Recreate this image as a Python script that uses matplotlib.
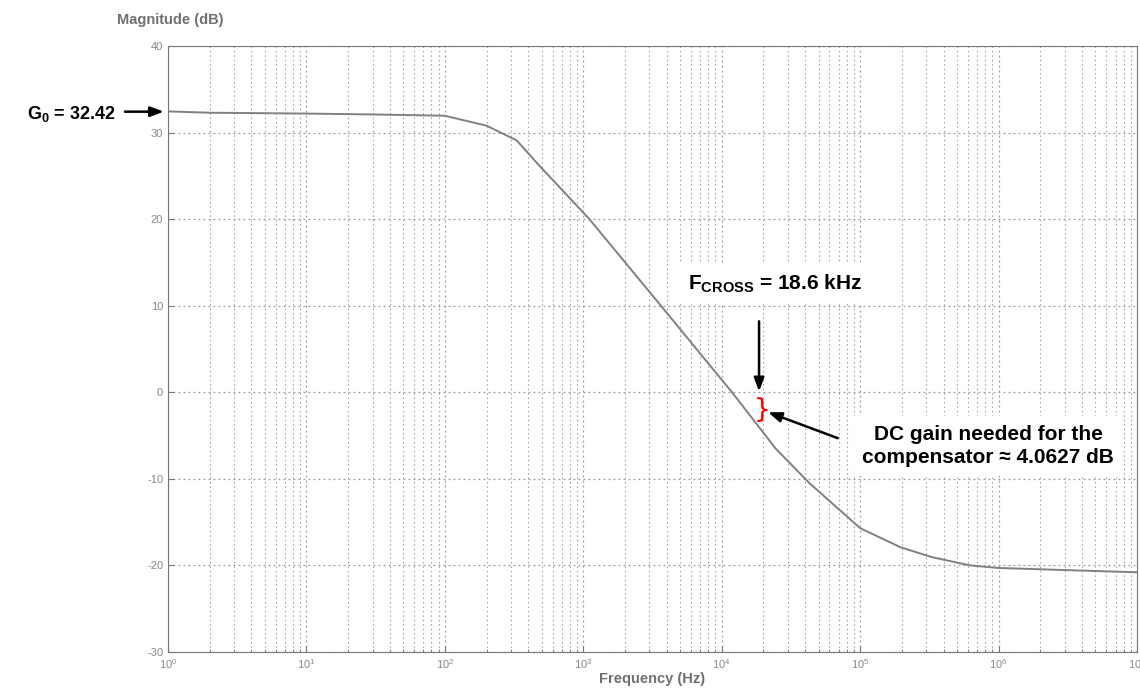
import matplotlib
matplotlib.use("Agg")
import matplotlib.pyplot as plt
import numpy as np
from matplotlib.ticker import LogLocator

# Bode magnitude
freq_hz = [1, 2, 10, 30, 100, 200, 330, 480, 1100, 3700, 12000, 24500,
           43000, 100000, 195000, 330000, 620000, 1e6, 1e7]
mag_db = [32.45, 32.3, 32.2, 32.1, 31.95, 30.8, 29.1, 26.2, 20.05, 9.85, -0.1,
          -6.5, -10.5, -15.7, -17.9, -19.05, -20.0, -20.3, -20.8]

g0 = 32.42
f_cross = 18.6e3
dc_gain = 4.0627
y_ticks = [-30, -20, -10, 0, 10, 20, 30, 40]

plt.rcParams['font.family'] = ['Liberation Sans', 'DejaVu Sans']
plt.rcParams['mathtext.fontset'] = 'custom'
plt.rcParams['mathtext.rm'] = 'Liberation Sans'
plt.rcParams['mathtext.bf'] = 'Liberation Sans:bold'
plt.rcParams['axes.unicode_minus'] = False

fig = plt.figure(figsize=(11.4, 6.98), dpi=100)
ax = fig.add_axes([0.1474, 0.066, 0.85, 0.868])

ax.plot(freq_hz, mag_db, color="#808080", lw=1.4)

ax.set_xscale("log")
ax.set_xlim(1, 1e7)
ax.set_ylim(-30, 40)
ax.set_yticks(y_ticks)
ax.xaxis.set_major_locator(LogLocator(base=10, numticks=10))
ax.xaxis.set_minor_locator(LogLocator(base=10, subs=np.arange(2, 10), numticks=100))

ax.grid(True, which="major", color="#9a9a9a", ls=(0, (1.5, 2.5)), lw=0.9)
ax.grid(True, which="minor", axis="x", color="#a8a8a8", ls=(0, (1.5, 2.5)), lw=0.8)

for s in ax.spines.values():
    s.set_color("#777777")
ax.tick_params(which="both", direction="in", colors="#777777", labelsize=8,
               labelcolor="#888888", top=False, right=False)
ax.tick_params(which="major", length=4)
ax.tick_params(which="minor", length=2.5)

fig.text(0.149, 0.972, "Magnitude (dB)", ha="center", va="center",
         fontsize=10.5, fontweight="bold", color="#707070")
ax.set_xlabel("Frequency (Hz)", fontsize=10.5, fontweight="bold", color="#707070",
              labelpad=1)

# G0 annotation
ax.annotate("", xy=(1, g0), xycoords="data", xytext=(-31, 0),
            textcoords="offset points",
            arrowprops=dict(arrowstyle="-|>,head_length=0.8,head_width=0.3",
                            color="black", lw=1.8, shrinkA=0, shrinkB=3))
ax.annotate(r"G$_\mathbf{0}$ = 32.42", xy=(1, g0), xytext=(-38, -2),
            textcoords="offset points", ha="right", va="center",
            fontsize=13, fontweight="bold", annotation_clip=False)

# crossover frequency
ax.text(2.42e4, 12.6, r"F$_\mathbf{CROSS}$ = 18.6 kHz", ha="center", va="center",
        fontsize=15, fontweight="bold",
        bbox=dict(facecolor="white", edgecolor="none", pad=6))
ax.annotate("", xy=(f_cross, 0.1), xytext=(f_cross, 8.2),
            arrowprops=dict(arrowstyle="-|>,head_length=0.8,head_width=0.3",
                            color="black", lw=1.8, shrinkA=0, shrinkB=0))

# red brace for the needed gain
ax.text(f_cross * 1.05, -dc_gain / 2, "}", color="red", fontsize=19,
        ha="center", va="center", family="DejaVu Sans")

ax.annotate("", xy=(f_cross * 1.16, -2.3), xytext=(f_cross * 3.7, -5.3),
            arrowprops=dict(arrowstyle="-|>,head_length=0.8,head_width=0.3",
                            color="black", lw=1.8, shrinkA=0, shrinkB=0))
ax.text(8.4e5, -6.2, "DC gain needed for the\ncompensator \u2248 4.0627 dB",
        ha="center", va="center", fontsize=15, fontweight="bold",
        linespacing=1.3,
        bbox=dict(facecolor="white", edgecolor="none", pad=6))

fig.savefig("out.png", dpi=100)
